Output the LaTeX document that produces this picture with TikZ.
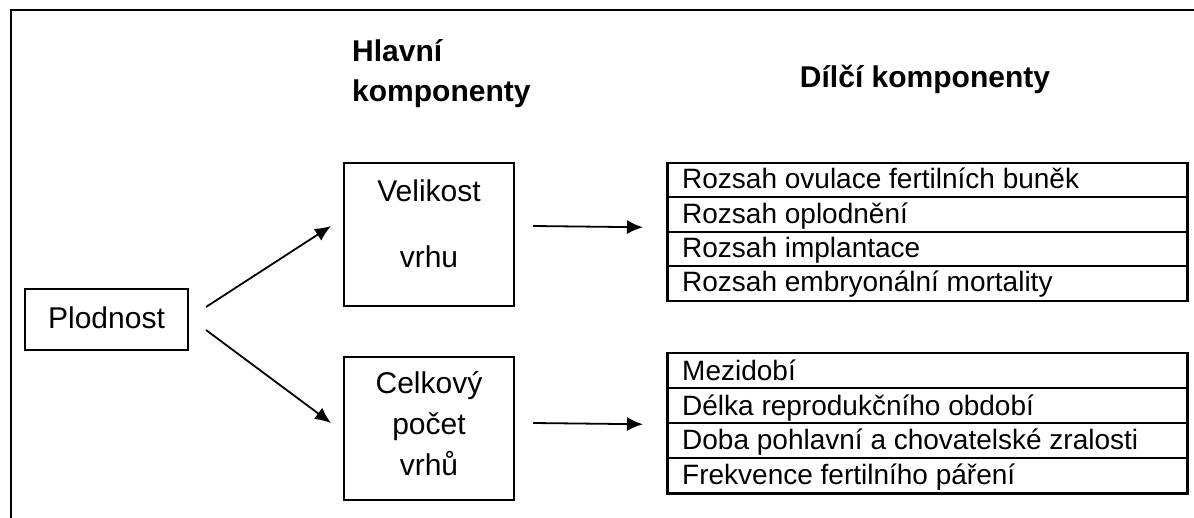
\documentclass[tikz,border=0pt]{standalone}
\usepackage{fontspec}
\setmainfont{Liberation Sans}
\usetikzlibrary{arrows.meta,calc}
\begin{document}
\begin{tikzpicture}[x=1pt,y=-1pt,
  box/.style={draw, line width=2pt, inner sep=0pt},
  boxtxt/.style={inner sep=0pt, anchor=base, font=\fontsize{30}{36}\selectfont},
  head/.style={inner sep=0pt, font=\fontsize{30}{36}\selectfont\bfseries},
  cell/.style={draw, line width=1.8pt, minimum width=520pt, minimum height=34.5pt, inner sep=0pt, anchor=north west},
  lcell/.style={cell, minimum height=35pt},
  tabframe/.style={draw, line width=2.5pt, minimum width=520pt, inner sep=0pt, anchor=north west},
  celltxt/.style={inner sep=0pt, anchor=base west, font=\fontsize{28}{32}\selectfont},
  arr/.style={line width=1.8pt, -{Latex[length=16pt,width=14pt]}}
]
\useasboundingbox (0,0) rectangle (1194,518);
\fill[white] (0,0) rectangle (1194,518);
% outer frame (clipped at right and bottom)
\draw[line width=2.5pt] (11,518) -- (11,10) -- (1194,10);

% headings
\node[head, anchor=base west] (h1) at (352,62) {Hlavní};
\node[head, anchor=base west] (h2) at (352,102) {komponenty};
\node[head, anchor=base] (h3) at (925,88) {Dílčí komponenty};

% boxes
\node[box, minimum width=163pt, minimum height=61pt] (plod) at (106.5,319.5) {};
\node[boxtxt] (plodt) at (106.5,329) {Plodnost};

\node[box, minimum width=170pt, minimum height=143pt] (vel) at (429,234.5) {};
\node[boxtxt] (velt1) at (429,202) {Velikost};
\node[boxtxt] (velt2) at (429,268) {vrhu};

\node[box, minimum width=170pt, minimum height=143pt] (cel) at (429,428.5) {};
\node[boxtxt] (celt1) at (429,394) {Celkový};
\node[boxtxt] (celt2) at (429,435) {počet};
\node[boxtxt] (celt3) at (429,475) {vrhů};

% upper table
\node[cell] (u1) at (666,162) {};
\node[cell] (u2) at (666,196.5) {};
\node[cell] (u3) at (666,231) {};
\node[cell] (u4) at (666,265.5) {};
\node[tabframe, minimum height=138pt] (utab) at (666,162) {};
\node[celltxt] (u1t) at ($(u1.south west)+(16,-9.5)$) {Rozsah ovulace fertilních buněk};
\node[celltxt] (u2t) at ($(u2.south west)+(16,-9.5)$) {Rozsah oplodnění};
\node[celltxt] (u3t) at ($(u3.south west)+(16,-9.5)$) {Rozsah implantace};
\node[celltxt] (u4t) at ($(u4.south west)+(16,-10)$) {Rozsah embryonální mortality};

% lower table
\node[lcell] (l1) at (666,352) {};
\node[lcell] (l2) at (666,387) {};
\node[lcell] (l3) at (666,422) {};
\node[lcell] (l4) at (666,457) {};
\node[tabframe, minimum height=140pt] (ltab) at (666,352) {};
\node[celltxt] (l1t) at ($(l1.south west)+(16,-8.5)$) {Mezidobí};
\node[celltxt] (l2t) at ($(l2.south west)+(16,-8.5)$) {Délka reprodukčního období};
\node[celltxt] (l3t) at ($(l3.south west)+(16,-9)$) {Doba pohlavní a chovatelské zralosti};
\node[celltxt] (l4t) at ($(l4.south west)+(16,-9)$) {Frekvence fertilního páření};

% connector end points
\coordinate (a1s) at ($(plod.east)+(17,-12.5)$);
\coordinate (a1e) at ($(vel.west)+(-12,-8.5)$);
\coordinate (a2s) at ($(plod.east)+(17,10.5)$);
\coordinate (a2e) at ($(cel.west)+(-12,-5.5)$);
\coordinate (a3s) at ($(vel.east)+(18,-8.5)$);
\coordinate (a3e) at ($(utab.west)+(-23,-5)$);
\coordinate (a4s) at ($(cel.east)+(18,-5.5)$);
\coordinate (a4e) at ($(ltab.west)+(-23,1)$);

\draw[arr] (a1s) -- (a1e);
\draw[arr] (a2s) -- (a2e);
\draw[arr] (a3s) -- (a3e);
\draw[arr] (a4s) -- (a4e);
\end{tikzpicture}
\end{document}
